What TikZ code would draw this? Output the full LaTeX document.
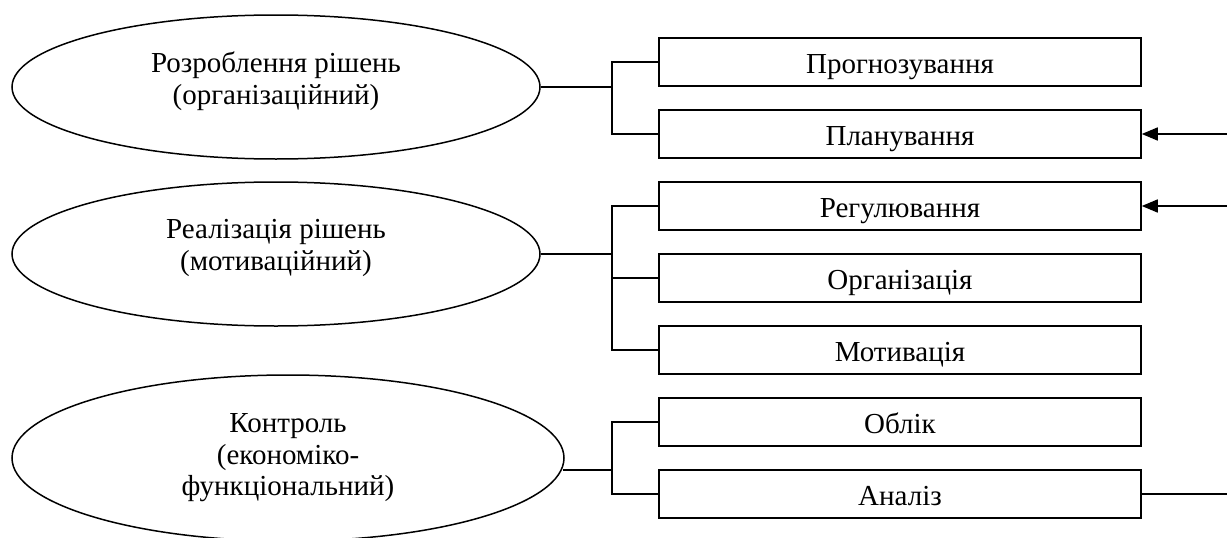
\documentclass[tikz,border=0pt]{standalone}
\usepackage{fontspec}
\setmainfont{Liberation Serif}
\usetikzlibrary{shapes.geometric,arrows.meta}
\newcommand{\lowstrut}{\rule[-18pt]{0pt}{18pt}}
\begin{document}
\begin{tikzpicture}[x=1pt,y=-1pt,
  every node/.style={font=\fontsize{29}{31.5}\selectfont},
  ell/.style={draw,ellipse,inner sep=0pt,align=center,line width=1.5pt},
  fbox/.style={draw,rectangle,minimum width=482pt,minimum height=48pt,inner sep=0pt,text height=22pt,text depth=0pt,line width=1.5pt},
  conn/.style={line width=1.5pt},
  arr/.style={conn,-{Triangle[length=16pt,width=13pt]}}]
\useasboundingbox (0,0) rectangle (1227,538);
\fill[white] (0,0) rectangle (1227,538);
% ellipses
\node[ell,minimum width=528pt,minimum height=144pt] (e1) at (276,87) {Розроблення рішень\\(організаційний)\lowstrut};
\node[ell,minimum width=528pt,minimum height=144pt] (e2) at (276,254) {Реалізація рішень\\(мотиваційний)\lowstrut};
\node[ell,minimum width=552pt,minimum height=166pt] (e3) at (288,458) {Контроль\\(економіко-\\функціональний)};
% boxes
\node[fbox] (b1) at (900,62) {Прогнозування};
\node[fbox] (b2) at (900,134) {Планування};
\node[fbox] (b3) at (900,206) {Регулювання};
\node[fbox] (b4) at (900,278) {Організація};
\node[fbox] (b5) at (900,350) {Мотивація};
\node[fbox] (b6) at (900,422) {Облік};
\node[fbox] (b7) at (900,494) {Аналіз};
% junctions
\coordinate (j1) at (612,87);
\coordinate (j2) at (612,254);
\coordinate (j3) at (612,470);
\coordinate (r1) at (1227,134);
\coordinate (r2) at (1227,206);
\coordinate (r3) at (1227,494);
% group 1
\draw[conn] (e1.east) -- (j1);
\draw[conn] (b1.west) -| (j1);
\draw[conn] (b2.west) -| (j1);
% group 2
\draw[conn] (e2.east) -- (j2);
\draw[conn] (b3.west) -| (j2);
\draw[conn] (b5.west) -| (j2);
\draw[conn] (b4.west) -- (b4.west -| j2);
% group 3
\draw[conn] (e3.-2.5 |- j3) -- (j3);
\draw[conn] (b6.west) -| (j3);
\draw[conn] (b7.west) -| (j3);
% right side
\draw[arr] (r1) -- (b2.east);
\draw[arr] (r2) -- (b3.east);
\draw[conn] (b7.east) -- (r3);
\end{tikzpicture}
\end{document}
